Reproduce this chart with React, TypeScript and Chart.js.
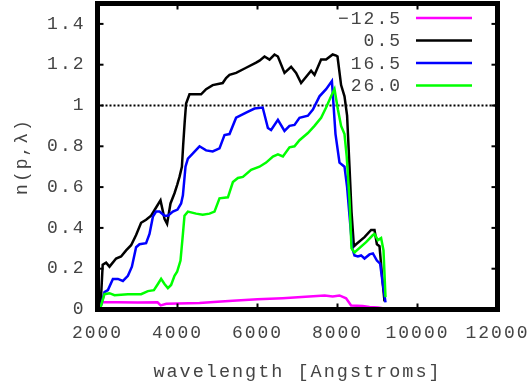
import React, { useEffect, useRef } from 'react';
import { Chart, registerables } from 'chart.js';

Chart.register(...registerables);

// ---- data (wavelength in Angstroms, value n(p,λ)) ----
const seriesLabels = ['\u221212.5', '0.5', '16.5', '26.0'];
const seriesColors = ['#ff00ff', '#000000', '#0000ff', '#00ff00'];

const wlM = [2050, 2130, 2500, 3000, 3500, 3580, 3720, 4000, 4550, 5000, 5380, 6000, 6630, 7200, 7680, 7880, 8050, 8215, 8340, 8630, 8800, 9010, 9170];
const valM = [0.01, 0.036, 0.035, 0.034, 0.035, 0.02, 0.028, 0.03, 0.032, 0.038, 0.043, 0.05, 0.055, 0.062, 0.069, 0.064, 0.069, 0.055, 0.02, 0.017, 0.012, 0.01, 0.005];

const wlK = [2075, 2130, 2215, 2300, 2465, 2590, 2715, 2840, 2965, 3090, 3215, 3340, 3465, 3575, 3675, 3740, 3825, 3925, 3990, 4050, 4110, 4140, 4180, 4215, 4300, 4425, 4590, 4715, 4880, 5130, 5215, 5300, 5465, 5715, 5965, 6050, 6175, 6300, 6425, 6510, 6675, 6840, 6965, 7090, 7340, 7425, 7590, 7715, 7880, 7965, 8000, 8090, 8175, 8240, 8300, 8350, 8410, 8465, 8675, 8840, 8925, 8985, 9050, 9130, 9175];
const valK = [0.01, 0.22, 0.23, 0.21, 0.25, 0.26, 0.29, 0.315, 0.365, 0.425, 0.44, 0.46, 0.50, 0.535, 0.445, 0.42, 0.52, 0.57, 0.61, 0.65, 0.70, 0.80, 0.92, 1.01, 1.055, 1.055, 1.055, 1.08, 1.10, 1.11, 1.135, 1.15, 1.16, 1.185, 1.21, 1.22, 1.24, 1.225, 1.25, 1.24, 1.16, 1.19, 1.16, 1.11, 1.17, 1.15, 1.225, 1.225, 1.25, 1.245, 1.24, 1.10, 1.045, 0.95, 0.70, 0.48, 0.31, 0.32, 0.355, 0.39, 0.39, 0.32, 0.31, 0.13, 0.04];

const wlB = [2075, 2175, 2260, 2385, 2510, 2635, 2760, 2860, 2965, 3050, 3215, 3300, 3385, 3465, 3550, 3675, 3760, 3885, 4000, 4090, 4135, 4200, 4260, 4385, 4550, 4715, 4880, 5050, 5175, 5300, 5465, 5715, 5925, 6130, 6260, 6340, 6510, 6675, 6800, 6925, 7050, 7260, 7385, 7550, 7715, 7860, 7950, 8050, 8175, 8240, 8300, 8370, 8425, 8510, 8590, 8675, 8800, 8885, 8985, 9065, 9130, 9200];
const valB = [0.01, 0.085, 0.095, 0.15, 0.15, 0.14, 0.165, 0.21, 0.305, 0.32, 0.325, 0.37, 0.455, 0.48, 0.48, 0.46, 0.46, 0.48, 0.49, 0.52, 0.56, 0.70, 0.74, 0.765, 0.80, 0.78, 0.775, 0.79, 0.855, 0.86, 0.94, 0.965, 0.985, 0.99, 0.89, 0.88, 0.93, 0.875, 0.90, 0.905, 0.94, 0.95, 0.98, 1.045, 1.08, 1.12, 0.86, 0.72, 0.70, 0.60, 0.46, 0.30, 0.265, 0.26, 0.265, 0.25, 0.27, 0.275, 0.24, 0.225, 0.13, 0.035];

const wlG = [2075, 2175, 2300, 2425, 2760, 3090, 3260, 3410, 3510, 3590, 3675, 3760, 3840, 3925, 3990, 4075, 4135, 4175, 4260, 4465, 4630, 4800, 4925, 5050, 5260, 5385, 5510, 5635, 5840, 6050, 6215, 6385, 6510, 6635, 6800, 6925, 7050, 7260, 7425, 7590, 7715, 7840, 7925, 8010, 8090, 8175, 8230, 8300, 8350, 8425, 8715, 8885, 8925, 9010, 9090, 9150, 9200];
const valG = [0.01, 0.075, 0.08, 0.07, 0.075, 0.075, 0.09, 0.095, 0.125, 0.15, 0.125, 0.105, 0.12, 0.165, 0.185, 0.24, 0.37, 0.46, 0.48, 0.47, 0.465, 0.47, 0.48, 0.545, 0.55, 0.625, 0.645, 0.65, 0.685, 0.70, 0.72, 0.75, 0.76, 0.75, 0.795, 0.80, 0.83, 0.865, 0.90, 0.94, 0.99, 1.045, 1.08, 0.98, 0.90, 0.86, 0.75, 0.54, 0.30, 0.28, 0.33, 0.365, 0.37, 0.34, 0.35, 0.29, 0.06];

const refWl = [2000, 12000];
const refVal = [1, 1];

const xTickValues = [2000, 4000, 6000, 8000, 10000, 12000];
const yTickValues = [0, 0.2, 0.4, 0.6, 0.8, 1, 1.2, 1.4];

const FONT_FAMILY = "'Liberation Mono', 'DejaVu Sans Mono', monospace";
const TEXT_COLOR = '#444444';
const SPACING = '2px';

const toPts = (xs: number[], ys: number[]) => xs.map((x, i) => ({ x, y: ys[i] }));

const framePlugin = {
  id: 'gnuframe',
  beforeLayout(chart: any) {
    chart.ctx.letterSpacing = SPACING;
  },
  beforeDraw(chart: any) {
    chart.ctx.letterSpacing = SPACING;
  },
  afterDatasetsDraw(chart: any) {
    const { ctx, chartArea: a, scales } = chart;
    ctx.save();
    ctx.strokeStyle = '#000';
    ctx.lineWidth = 2;
    const seg = (x1: number, y1: number, x2: number, y2: number) => {
      ctx.beginPath();
      ctx.moveTo(x1, y1);
      ctx.lineTo(x2, y2);
      ctx.stroke();
    };
    for (const v of yTickValues) {
      const y = scales.y.getPixelForValue(v);
      seg(a.left, y, a.left + 6, y);
      seg(a.right - 6, y, a.right, y);
    }
    for (const v of xTickValues) {
      const x = scales.x.getPixelForValue(v);
      seg(x, a.bottom, x, a.bottom - 6);
      seg(x, a.top, x, a.top + 6);
    }
    ctx.lineWidth = 5;
    ctx.strokeRect(a.left, a.top, a.right - a.left, a.bottom - a.top);
    ctx.restore();
  },
  afterDraw(chart: any) {
    const { ctx, chartArea: a } = chart;
    ctx.save();
    ctx.letterSpacing = SPACING;
    ctx.font = `18px ${FONT_FAMILY}`;
    ctx.fillStyle = TEXT_COLOR;
    ctx.textAlign = 'right';
    ctx.textBaseline = 'middle';
    seriesLabels.forEach((lab, i) => {
      const y = a.top + 14.5 + i * 22.5;
      ctx.fillText(lab, a.right - 95.5, y + 1);
      ctx.strokeStyle = seriesColors[i];
      ctx.lineWidth = 2.5;
      ctx.beginPath();
      ctx.moveTo(a.right - 81.5, y);
      ctx.lineTo(a.right - 25.5, y);
      ctx.stroke();
    });
    ctx.restore();
  },
};

export default function App() {
  const ref = useRef<HTMLCanvasElement | null>(null);
  useEffect(() => {
    if (!ref.current) return;
    const mk = (i: number, xs: number[], ys: number[], order: number) => ({
      label: seriesLabels[i],
      data: toPts(xs, ys),
      borderColor: seriesColors[i],
      backgroundColor: seriesColors[i],
      borderWidth: 2.5,
      pointRadius: 0,
      tension: 0,
      fill: false,
      order,
    });
    const font = { family: FONT_FAMILY, size: 18 };
    const chart = new Chart(ref.current, {
      type: 'line',
      data: {
        datasets: [
          mk(0, wlM, valM, 4),
          mk(1, wlK, valK, 3),
          mk(2, wlB, valB, 2),
          mk(3, wlG, valG, 1),
          {
            label: 'ref',
            data: toPts(refWl, refVal),
            borderColor: '#000',
            borderWidth: 2,
            borderDash: [2, 2],
            pointRadius: 0,
            fill: false,
            order: 5,
          } as any,
        ],
      },
      options: {
        animation: false,
        responsive: false,
        parsing: false as any,
        layout: { padding: { top: 3.5, right: 34.5, left: 0, bottom: 0 } },
        plugins: {
          legend: { display: false },
          tooltip: { enabled: false },
        },
        scales: {
          x: {
            type: 'linear',
            min: 2000,
            max: 12000,
            border: { display: false },
            grid: { display: false, drawTicks: false },
            afterBuildTicks: (s: any) => {
              s.ticks = xTickValues.map((v) => ({ value: v }));
            },
            afterFit: (s: any) => {
              s.height = 73.5;
              s.paddingLeft = 0;
              s.paddingRight = 0;
            },
            ticks: {
              font,
              color: TEXT_COLOR,
              padding: 13,
              maxRotation: 0,
              autoSkip: false,
              callback: (v: any) => String(v),
            },
            title: {
              display: true,
              text: 'wavelength [Angstroms]',
              font: { family: FONT_FAMILY, size: 18.5 },
              color: TEXT_COLOR,
              padding: { top: 5, bottom: 0 },
            },
          },
          y: {
            type: 'linear',
            min: 0,
            max: 1.5,
            border: { display: false },
            grid: { display: false, drawTicks: false },
            afterBuildTicks: (s: any) => {
              s.ticks = yTickValues.map((v) => ({ value: v }));
            },
            afterFit: (s: any) => {
              s.width = 97.5;
              s.paddingTop = 0;
              s.paddingBottom = 0;
            },
            ticks: {
              font,
              color: TEXT_COLOR,
              padding: 12,
              autoSkip: false,
              callback: (v: any) => String(Math.round(Number(v) * 10) / 10),
            },
            title: {
              display: true,
              text: 'n(p,\u03bb)',
              font,
              color: TEXT_COLOR,
              padding: { top: 11, bottom: 0 },
            },
          },
        },
      },
      plugins: [framePlugin],
    });
    return () => chart.destroy();
  }, []);
  return (
    <div style={{ position: 'absolute', left: 0, top: 0, width: 532, height: 383, background: '#fff' }}>
      <canvas ref={ref} width={532} height={383} style={{ display: 'block' }} />
    </div>
  );
}
